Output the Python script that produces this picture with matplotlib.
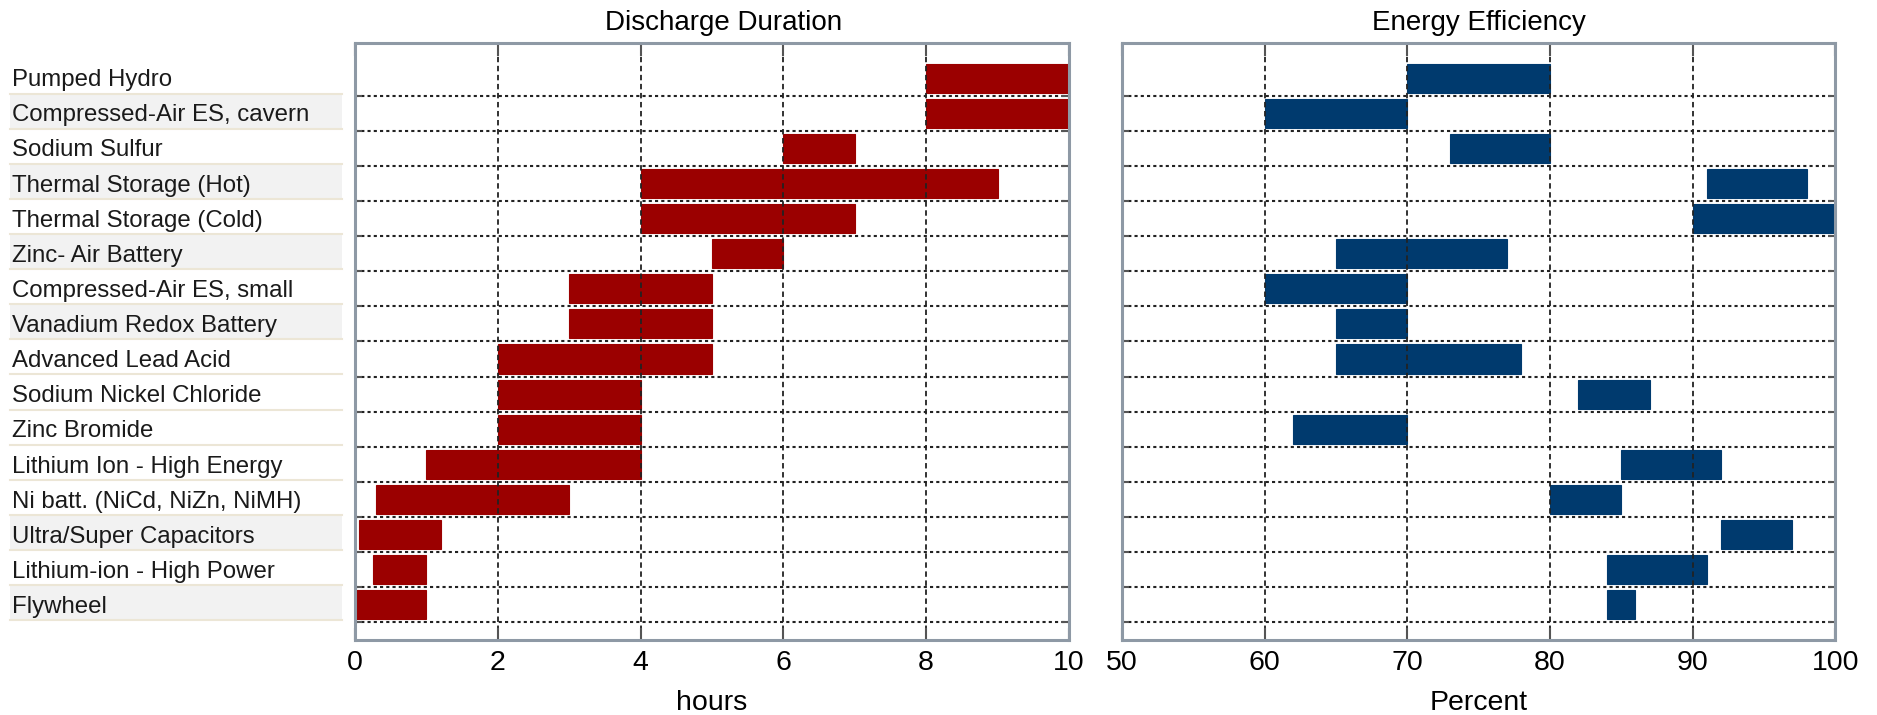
import numpy as np
import matplotlib
matplotlib.use('Agg')
import matplotlib.pyplot as plt
from matplotlib import transforms
from matplotlib.patches import Rectangle

plt.rcParams['font.family'] = ['Liberation Sans', 'DejaVu Sans']

# Data (top to bottom)
technologies = ['Pumped Hydro', 'Compressed-Air ES, cavern', 'Sodium Sulfur',
                'Thermal Storage (Hot)', 'Thermal Storage (Cold)', 'Zinc- Air Battery',
                'Compressed-Air ES, small', 'Vanadium Redox Battery', 'Advanced Lead Acid',
                'Sodium Nickel Chloride', 'Zinc Bromide', 'Lithium Ion - High Energy',
                'Ni batt. (NiCd, NiZn, NiMH)', 'Ultra/Super Capacitors',
                'Lithium-ion - High Power', 'Flywheel']
duration_min = [8, 8, 6, 4, 4, 5, 3, 3, 2, 2, 2, 1, 0.3, 0.05, 0.25, 0]
duration_max = [10, 10, 7, 9, 7, 6, 5, 5, 5, 4, 4, 4, 3, 1.2, 1, 1]
efficiency_min = [70, 60, 73, 91, 90, 65, 60, 65, 65, 82, 62, 85, 80, 92, 84, 84]
efficiency_max = [80, 70, 80, 98, 100, 77, 70, 70, 78, 87, 70, 92, 85, 97, 91, 86]
shaded_rows = [1, 3, 5, 7, 13, 15]

red = '#9b0000'
blue = '#003a6e'
frame = '#8e99a5'

fig = plt.figure(figsize=(18.77, 7.15), dpi=100)
ax1 = fig.add_axes([0.1891, 0.1049, 0.3804, 0.835])
ax2 = fig.add_axes([0.5978, 0.1049, 0.3799, 0.835])

y = np.arange(len(technologies))

def style_axis(ax, lo, hi, ticks, title, xlabel, vals_lo, vals_hi, color, title_x=0.5):
    ax.barh(y, np.array(vals_hi) - np.array(vals_lo), left=vals_lo, height=0.83,
            color=color, edgecolor=color, linewidth=0.8, zorder=1)
    ax.set_xlim(lo, hi)
    ax.set_ylim(len(technologies), -1)
    ax.set_xticks(ticks)
    ax.set_yticks([])
    ax.set_yticks(y + 0.5, minor=True)
    ax.tick_params(axis='y', which='minor', direction='in', left=True, right=True,
                   length=5, width=1.5, color='#555555', labelleft=False)
    ax.tick_params(axis='x', direction='in', top=True, length=9, width=1.5,
                   color='#555555', labelsize=20.5, pad=7)
    ax.set_axisbelow(False)
    ax.grid(True, axis='x', which='major', color='#222222', linewidth=1.3,
            linestyle=(0, (3, 2)))
    ax.grid(True, axis='y', which='minor', color='#222222', linewidth=1.5,
            linestyle=(0, (1.5, 1.5)))
    for s in ax.spines.values():
        s.set_color(frame)
        s.set_linewidth(2.2)
        s.set_zorder(4)
    ax.set_title(title, fontsize=20, pad=9, x=title_x)
    ax.set_xlabel(xlabel, fontsize=20.5, labelpad=10)

style_axis(ax1, 0, 10, [0, 2, 4, 6, 8, 10], 'Discharge Duration', 'hours',
           duration_min, duration_max, red, title_x=0.516)
style_axis(ax2, 50, 100, [50, 60, 70, 80, 90, 100], 'Energy Efficiency', 'Percent',
           efficiency_min, efficiency_max, blue)

# category label column on the left
trans = transforms.blended_transform_factory(fig.transFigure, ax1.transData)
x0 = 10 / 1877
w = 332 / 1877
for i, name in enumerate(technologies):
    top = i - 0.56
    if i in shaded_rows:
        fig.add_artist(Rectangle((x0, top), w, 1.0, transform=trans,
                                 facecolor='#f2f2f2', edgecolor='none', zorder=0))
    fig.add_artist(plt.Line2D([x0, x0 + w], [top + 1.0, top + 1.0], transform=trans,
                              color='#ece6d6', linewidth=1.5, zorder=1))
    fig.text(12 / 1877, i + 0.06, name, transform=trans, fontsize=17.3,
             ha='left', va='center', color='#1a1a1a', zorder=2)

fig.savefig('out.png', dpi=100)
